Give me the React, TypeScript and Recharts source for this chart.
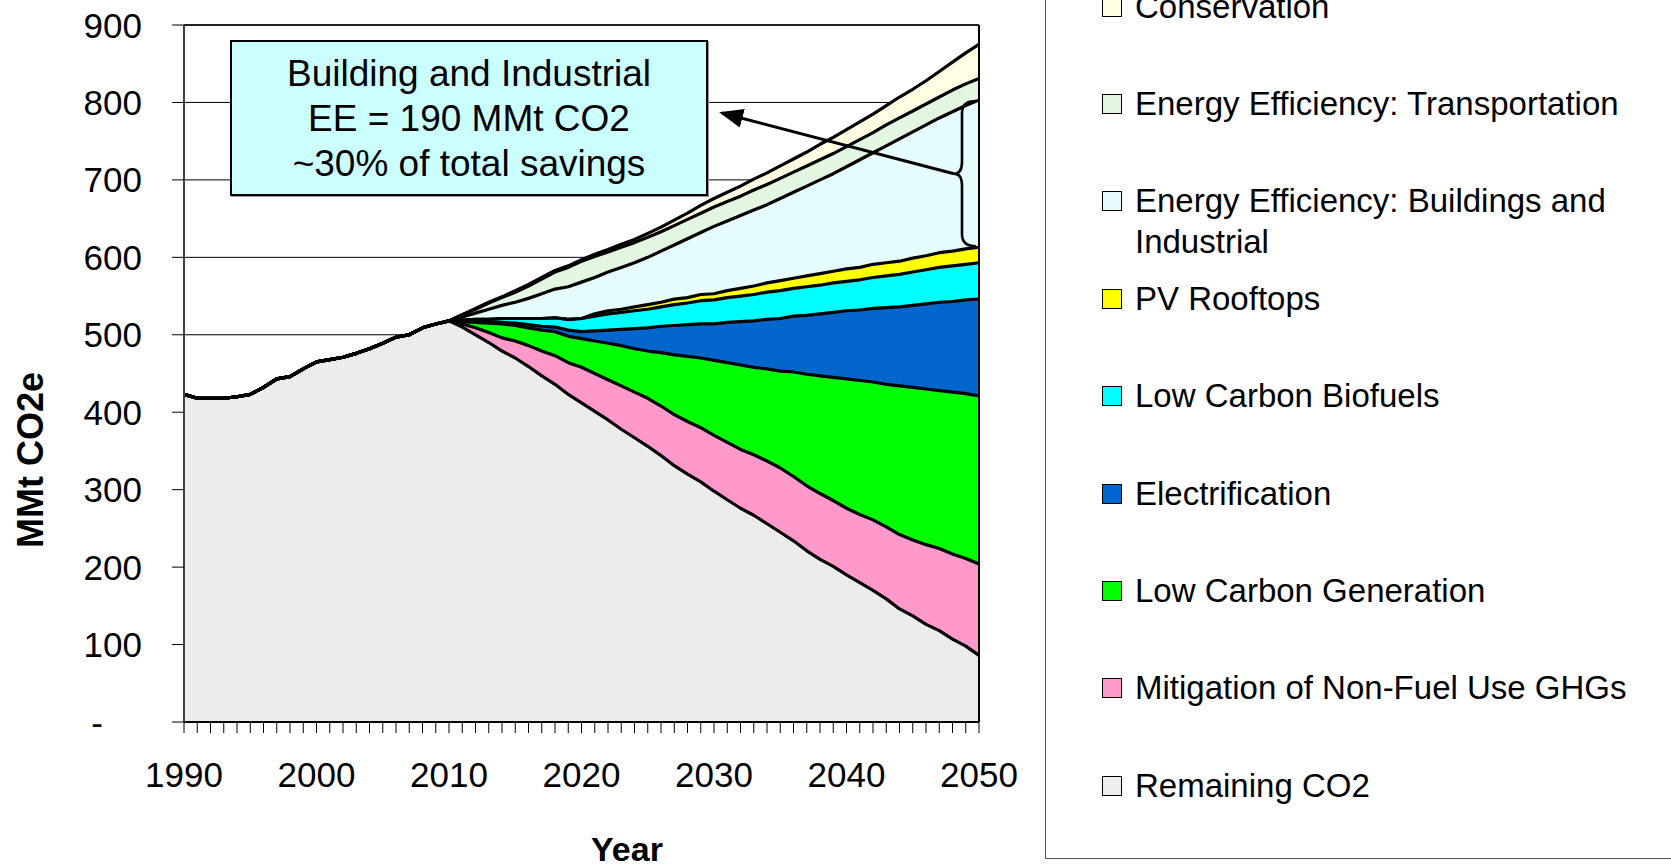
import React from "react";
import {
  AreaChart,
  Area,
  XAxis,
  YAxis,
  CartesianGrid,
  ReferenceLine,
} from "recharts";

// one point per year
const years = [
  1990, 1991, 1992, 1993, 1994, 1995, 1996, 1997, 1998, 1999,
  2000, 2001, 2002, 2003, 2004, 2005, 2006, 2007, 2008, 2009,
  2010, 2011, 2012, 2013, 2014, 2015, 2016, 2017, 2018, 2019,
  2020, 2021, 2022, 2023, 2024, 2025, 2026, 2027, 2028, 2029,
  2030, 2031, 2032, 2033, 2034, 2035, 2036, 2037, 2038, 2039,
  2040, 2041, 2042, 2043, 2044, 2045, 2046, 2047, 2048, 2049,
  2050,
];

// MMt CO2e still emitted, history then projection
const remainingCO2 = [
  423, 418, 418, 418, 420, 423, 432, 443, 446, 456,
  465, 468, 471, 476, 482, 489, 497, 500, 509, 514,
  518, 510, 500, 490, 479, 470, 459, 447, 436, 423,
  412, 401, 390, 378, 367, 356, 344, 331, 320, 310,
  298, 287, 276, 267, 256, 245, 234, 221, 210, 201,
  190, 180, 170, 159, 146, 137, 126, 118, 107, 98,
  86,
];

// savings wedges, 2010 to 2050
const wedgeStartYear = 2010;
const mitigationNonFuel = [
  0, 4, 9, 13, 17, 22, 27, 32, 37, 41, 46, 49, 52, 56, 59, 62, 64, 66, 68, 70,
  72, 74, 76, 78, 81, 83, 83, 84, 85, 85, 86, 88, 91, 93, 96, 98, 103, 106, 110, 113, 118,
];
const lowCarbonGeneration = [
  0, 3, 7, 12, 18, 20, 23, 27, 31, 34, 37, 42, 47, 52, 56, 61, 69, 77, 84, 90,
  97, 103, 109, 113, 119, 125, 135, 144, 152, 159, 167, 173, 178, 184, 192, 197, 201, 204, 209, 213, 217,
];
const electrification = [
  0, 0, 1, 1, 2, 3, 4, 5, 6, 8, 9, 13, 17, 21, 26, 30, 34, 38, 41, 44,
  47, 52, 56, 60, 64, 68, 72, 76, 80, 84, 88, 91, 95, 99, 102, 106, 110, 114, 117, 121, 125,
];
const lowCarbonBiofuels = [
  0, 2, 3, 4, 5, 6, 8, 10, 12, 14, 17, 19, 21, 22, 23, 24, 25, 27, 28, 30,
  31, 32, 33, 34, 35, 36, 36, 37, 37, 38, 38, 39, 40, 41, 42, 43, 44, 45, 46, 46, 47,
];
const pvRooftops = [
  0, 0, 0, 0, 0, 0, 0, 0, 0, 0, 0, 3, 4, 4, 5, 6, 6, 7, 7, 8,
  8, 9, 10, 11, 12, 13, 13, 14, 15, 15, 16, 16, 17, 17, 17, 18, 18, 19, 19, 20, 20,
];
const eeBuildingsIndustrial = [
  0, 4, 8, 13, 17, 21, 26, 32, 37, 42, 47, 47, 50, 54, 57, 61, 66, 70, 76, 80,
  87, 90, 94, 98, 101, 106, 111, 116, 121, 126, 132, 139, 144, 151, 158, 163, 169, 174, 180, 185, 190,
];
const eeTransportation = [
  0, 3, 5, 8, 10, 13, 16, 19, 22, 25, 27, 27, 26, 26, 26, 26, 25, 25, 25, 25,
  25, 25, 25, 26, 26, 26, 26, 26, 26, 26, 26, 26, 26, 27, 27, 27, 27, 27, 28, 28, 28,
];
const conservation = [
  0, 0, 1, 1, 1, 2, 2, 2, 2, 2, 2, 3, 3, 4, 4, 5, 6, 7, 8, 10,
  11, 12, 13, 14, 15, 16, 17, 18, 20, 21, 22, 23, 24, 25, 27, 28, 30, 33, 36, 40, 44,
];

const yTicks = [0, 100, 200, 300, 400, 500, 600, 700, 800, 900];
const xLabelYears = [1990, 2000, 2010, 2020, 2030, 2040, 2050];

const noteLines = ["Building and Industrial", "EE = 190 MMt CO2", "~30% of total savings"];

const wedgeAt = (values: number[], year: number) =>
  year < wedgeStartYear ? 0 : values[year - wedgeStartYear];

const data = years.map((year, i) => ({
  year,
  remaining: remainingCO2[i],
  mitigation: wedgeAt(mitigationNonFuel, year),
  generation: wedgeAt(lowCarbonGeneration, year),
  electrification: wedgeAt(electrification, year),
  biofuels: wedgeAt(lowCarbonBiofuels, year),
  pv: wedgeAt(pvRooftops, year),
  eeBuildings: wedgeAt(eeBuildingsIndustrial, year),
  eeTransport: wedgeAt(eeTransportation, year),
  conservation: wedgeAt(conservation, year),
}));

// stacking order, bottom first
const layers = [
  { key: "remaining", name: "Remaining CO2", fill: "url(#greyStripes)", swatch: "#EEEEEE" },
  { key: "mitigation", name: "Mitigation of Non-Fuel Use GHGs", fill: "#FF99CC", swatch: "#FF99CC" },
  { key: "generation", name: "Low Carbon Generation", fill: "#00FF00", swatch: "#00FF00" },
  { key: "electrification", name: "Electrification", fill: "#0066CC", swatch: "#0066CC" },
  { key: "biofuels", name: "Low Carbon Biofuels", fill: "#00FFFF", swatch: "#00FFFF" },
  { key: "pv", name: "PV Rooftops", fill: "#FFFF00", swatch: "#FFFF00" },
  { key: "eeBuildings", name: "Energy Efficiency: Buildings and Industrial", fill: "#E6FCFC", swatch: "#E6FCFC" },
  { key: "eeTransport", name: "Energy Efficiency: Transportation", fill: "#E3F6E1", swatch: "#E3F6E1" },
  { key: "conservation", name: "Conservation", fill: "#FFFEE3", swatch: "#FFFEE3" },
];

const W = 1671;
const H = 867;
const PLOT = { left: 184, top: 25, right: 979, bottom: 722 };
const Y_AXIS_W = 100;
const X_AXIS_H = 60;
const Y_MAX = 900;
const FONT = "'Liberation Sans', Arial, sans-serif";

const valueToY = (v: number) =>
  PLOT.top + ((Y_MAX - v) / Y_MAX) * (PLOT.bottom - PLOT.top);

const XTick = (props: any) => {
  const { x, y, payload } = props;
  if (!xLabelYears.includes(payload.value)) return <g />;
  return (
    <text x={x} y={y + 54} textAnchor="middle" fontSize={35} fill="#000" fontFamily={FONT}>
      {payload.value}
    </text>
  );
};

const YTick = (props: any) => {
  const { x, y, payload } = props;
  const isZero = payload.value === 0;
  return (
    <text
      x={isZero ? x - 39 : x}
      y={y + 12.5}
      textAnchor="end"
      fontSize={35}
      fill="#000"
      fontFamily={FONT}
    >
      {isZero ? "-" : payload.value}
    </text>
  );
};

function Legend() {
  const items = [...layers].reverse();
  return (
    <div
      style={{
        position: "absolute",
        left: 1045,
        top: -4,
        width: 700,
        height: 863,
        border: "1.5px solid #555",
        boxSizing: "border-box",
      }}
    >
      {items.map((item, i) => {
        const cy = 9.5 + i * 97.4;
        return (
          <React.Fragment key={item.key}>
            <div
              style={{
                position: "absolute",
                left: 56,
                top: cy - 10,
                width: 20,
                height: 20,
                background: item.swatch,
                border: "1.5px solid #000",
                boxSizing: "border-box",
              }}
            />
            <div
              style={{
                position: "absolute",
                left: 89,
                top: cy - 20,
                width: 540,
                fontSize: 33,
                lineHeight: "40.5px",
                color: "#000",
                fontFamily: FONT,
              }}
            >
              {item.name}
            </div>
          </React.Fragment>
        );
      })}
    </div>
  );
}

function Annotations() {
  // brace spans the buildings & industrial wedge in 2050
  const last = data[data.length - 1];
  const topPv =
    last.remaining + last.mitigation + last.generation + last.electrification + last.biofuels + last.pv;
  const topEe = topPv + last.eeBuildings;
  const yT = valueToY(topEe) + 1;
  const yB = valueToY(topPv) - 1;
  const yM = (yT + yB) / 2;
  const xR = PLOT.right - 3;
  const xV = PLOT.right - 17;
  const xTip = PLOT.right - 25;
  const r = 12;
  const brace = `M ${xR} ${yT} Q ${xV} ${yT} ${xV} ${yT + r} L ${xV} ${yM - r} Q ${xV} ${yM} ${xTip} ${yM} Q ${xV} ${yM} ${xV} ${yM + r} L ${xV} ${yB - r} Q ${xV} ${yB} ${xR} ${yB}`;

  return (
    <svg
      width={W}
      height={H}
      style={{ position: "absolute", left: 0, top: 0, pointerEvents: "none" }}
    >
      <defs>
        <marker id="arrowHead" markerWidth="8" markerHeight="6.4" refX="7" refY="3.2" orient="auto" markerUnits="strokeWidth">
          <path d="M0,0 L8,3.2 L0,6.4 Z" fill="#000" />
        </marker>
      </defs>
      <path d={brace} fill="none" stroke="#000" strokeWidth={2.6} />
      <line x1={xTip} y1={yM} x2={722} y2={113} stroke="#000" strokeWidth={3} markerEnd="url(#arrowHead)" />
      <text
        transform="translate(30,460) rotate(-90)"
        textAnchor="middle"
        dominantBaseline="central"
        fontSize={36}
        fontWeight="bold"
        fontFamily={FONT}
      >
        MMt CO2e
      </text>
      <text x={627} y={861} textAnchor="middle" fontSize={34} fontWeight="bold" fontFamily={FONT}>
        Year
      </text>
    </svg>
  );
}

function NoteBox() {
  return (
    <div
      style={{
        position: "absolute",
        left: 230,
        top: 40,
        width: 478,
        height: 156,
        background: "#CCFFFF",
        border: "2px solid #000",
        boxShadow: "1px 1px 0 #999",
        boxSizing: "border-box",
        display: "flex",
        flexDirection: "column",
        alignItems: "center",
        justifyContent: "center",
        fontFamily: FONT,
        fontSize: 37,
        lineHeight: "45px",
        color: "#000",
      }}
    >
      {noteLines.map((t) => (
        <div key={t}>{t}</div>
      ))}
    </div>
  );
}

export default function App() {
  return (
    <div
      style={{
        position: "absolute",
        left: 0,
        top: 0,
        width: W,
        height: H,
        overflow: "hidden",
        background: "#fff",
        fontFamily: FONT,
      }}
    >
      <AreaChart
        width={W}
        height={H}
        data={data}
        margin={{
          top: PLOT.top,
          right: W - PLOT.right,
          left: PLOT.left - Y_AXIS_W,
          bottom: H - PLOT.bottom - X_AXIS_H,
        }}
      >
        <defs>
          <pattern id="greyStripes" patternUnits="userSpaceOnUse" width="2" height="4">
            <rect width="2" height="4" fill="#F0F0F0" />
            <rect width="1" height="4" fill="#E8E8E8" />
          </pattern>
        </defs>
        <CartesianGrid vertical={false} stroke="#000" strokeWidth={1} />
        <XAxis
          dataKey="year"
          type="number"
          domain={[1990, 2050]}
          ticks={years}
          interval={0}
          height={X_AXIS_H}
          tickSize={11}
          tickMargin={0}
          tick={<XTick />}
          tickLine={{ stroke: "#000", strokeWidth: 1 }}
          axisLine={{ stroke: "#000", strokeWidth: 2 }}
        />
        <YAxis
          type="number"
          domain={[0, Y_MAX]}
          ticks={yTicks}
          interval={0}
          width={Y_AXIS_W}
          tickSize={12}
          tickMargin={30}
          tick={<YTick />}
          tickLine={{ stroke: "#000", strokeWidth: 1 }}
          axisLine={{ stroke: "#404040", strokeWidth: 2 }}
        />
        {layers.map((l) => (
          <Area
            key={`fill-${l.key}`}
            dataKey={l.key}
            name={l.name}
            stackId="fill"
            type="linear"
            fill={l.fill}
            fillOpacity={1}
            stroke="none"
            dot={false}
            activeDot={false}
            isAnimationActive={false}
          />
        ))}
        {layers.map((l) => (
          <Area
            key={`line-${l.key}`}
            dataKey={l.key}
            stackId="line"
            type="linear"
            fill="none"
            stroke="#000"
            strokeWidth={3.2}
            strokeLinejoin="round"
            dot={false}
            activeDot={false}
            legendType="none"
            isAnimationActive={false}
          />
        ))}
        <ReferenceLine x={2050} stroke="#000" strokeWidth={2} />
        <ReferenceLine y={Y_MAX} stroke="#000" strokeWidth={1.5} />
      </AreaChart>
      <NoteBox />
      <Annotations />
      <Legend />
    </div>
  );
}
